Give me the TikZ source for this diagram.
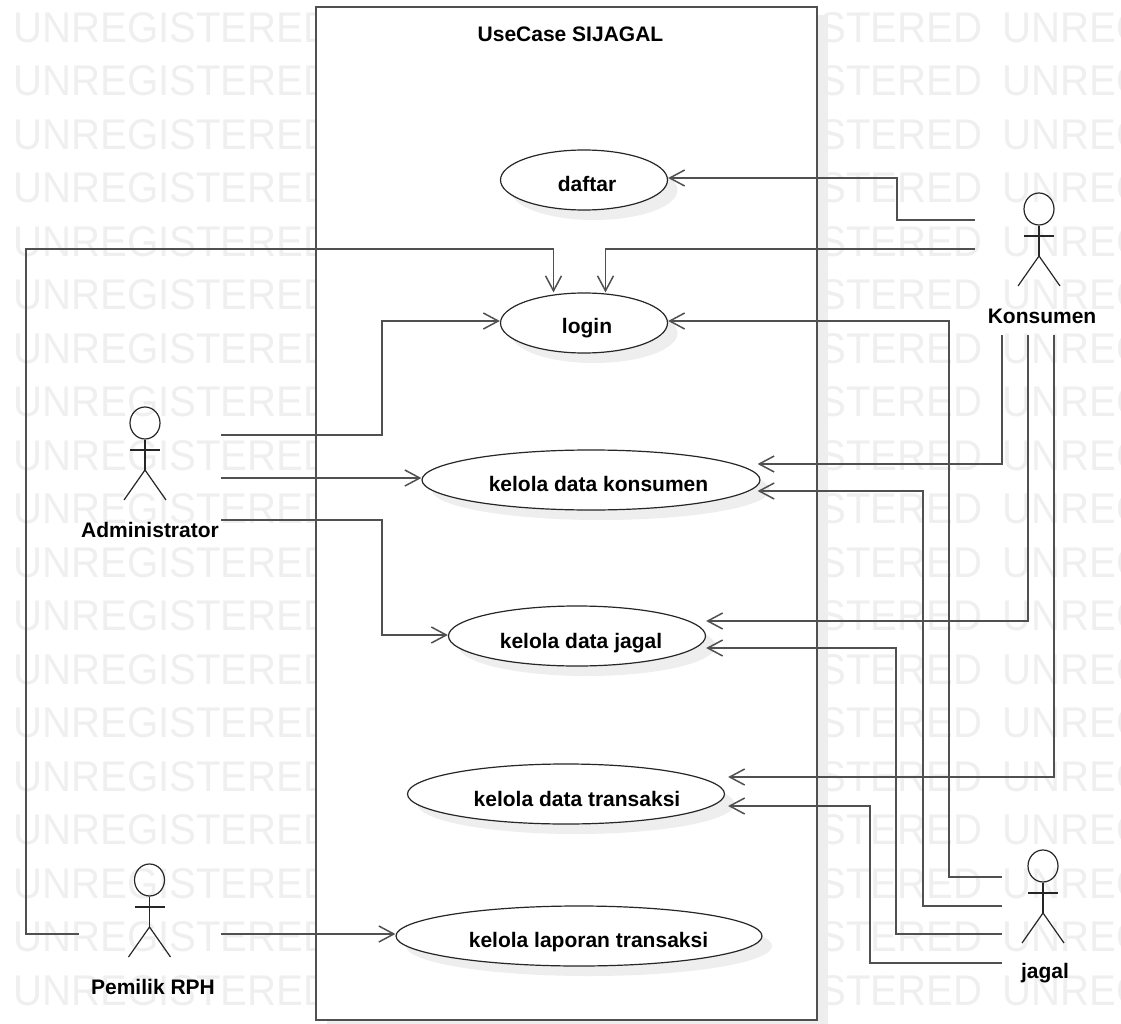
\documentclass[tikz,border=0pt]{standalone}
\usepackage{fontspec}
\setmainfont{Liberation Sans}
\usetikzlibrary{shapes.geometric}
\usetikzlibrary{arrows.meta}
\usetikzlibrary{shadows}
\definecolor{wmgray}{HTML}{EFEFEF}
\definecolor{shadowgray}{HTML}{EEEEEE}
\definecolor{linegray}{HTML}{505050}
\tikzstyle{watermark}=[inner sep=0pt, anchor=west, text=wmgray, xscale=0.935, font=\fontsize{43}{43}\selectfont]
\tikzstyle{system}=[draw=linegray, line width=2pt, fill=white, inner sep=0pt, minimum width=501pt, minimum height=1013pt, drop shadow={shadow xshift=10.5pt, shadow yshift=-8pt, opacity=1, fill=shadowgray}]
\tikzstyle{usecase}=[draw=black!85, line width=1.2pt, ellipse, fill=white, inner sep=0pt, minimum height=60pt, drop shadow={shadow xshift=10pt, shadow yshift=-10pt, opacity=1, fill=shadowgray}]
\tikzstyle{actorhead}=[draw=black!85, line width=1.2pt, ellipse, inner sep=0pt, minimum width=30pt, minimum height=32pt]
\tikzstyle{actorname}=[inner sep=0pt, font=\bfseries\fontsize{21}{21}\selectfont]
\tikzstyle{assoc}=[draw=linegray, line width=1.8pt, ->, >={Straight Barb[length=15pt, width=16pt, line width=1.5pt]}]
\tikzstyle{limb}=[draw=black!85, line width=1.2pt]

\begin{document}
\begin{tikzpicture}[x=1pt, y=-1pt]
        \useasboundingbox (0, 0) rectangle (1121, 1024);
        \begin{scope}
            \clip (0, 0) rectangle (1121, 1024);
            \foreach \row in {0,...,18} {
                \node[watermark] (wmA\row) at (13, 27.5+53.5*\row) {UNREGISTERED};
                \node[watermark] (wmB\row) at (663, 27.5+53.5*\row) {UNREGISTERED};
                \node[watermark] (wmC\row) at (1002, 27.5+53.5*\row) {UNREGISTERED};
            }
        \end{scope}

        \node[system] (sys) at (566.5, 513.5) {};
        \node[actorname] (title) at (570.5, 34) {UseCase SIJAGAL};

        \node[usecase, minimum width=167pt, label={[actorname, xshift=3pt, yshift=-4pt]center:daftar}] (daftar) at (584, 180) {};
        \node[usecase, minimum width=167pt, label={[actorname, xshift=3pt, yshift=-5.5pt]center:login}] (login) at (584, 323) {};
        \node[usecase, minimum width=338pt, label={[actorname, xshift=7.5pt, yshift=-4pt]center:kelola data konsumen}] (kKonsumen) at (591, 480) {};
        \node[usecase, minimum width=257pt, label={[actorname, xshift=4pt, yshift=-7.5pt]center:kelola data jagal}] (kJagal) at (577, 636) {};
        \node[usecase, minimum width=317pt, label={[actorname, xshift=11pt, yshift=-4.5pt]center:kelola data transaksi}] (kTransaksi) at (566, 794) {};
        \node[usecase, minimum width=366pt, label={[actorname, xshift=9.5pt, yshift=-6.5pt]center:kelola laporan transaksi}] (kLaporan) at (579, 936) {};

        % actors
        \foreach \who/\hx/\hy/\lx/\ly/\txt in {admin/145/423/150/530/Administrator, pemilik/149.5/880/153/987/Pemilik RPH, konsumen/1039/209/1042/316/Konsumen, jagal/1043/866/1045/973/jagal} {
            \node[actorhead] (\who Head) at (\hx, \hy) {};
            \node[actorname] (\who) at (\lx, \ly) {\txt};
            \coordinate (\who Hip) at (\hx, \hy+47);
            \draw[limb] (\who Head.south) -- (\who Hip);
            \draw[limb] (\hx-15, \hy+27) -- (\hx+15, \hy+27);
            \draw[limb] (\hx-21, \hy+77) -- (\who Hip) -- (\hx+21, \hy+77);
        }

        % free ends beside the actors
        \coordinate (adminA) at (221, 435);
        \coordinate (adminB) at (221, 478);
        \coordinate (adminC) at (221, 520);
        \coordinate (pemilikA) at (79, 934);
        \coordinate (pemilikB) at (221, 934);
        \coordinate (konsumenA) at (975, 220);
        \coordinate (konsumenB) at (975, 249);
        \coordinate (konsumenC) at (1002, 335);
        \coordinate (konsumenD) at (1028, 335);
        \coordinate (konsumenE) at (1054, 335);
        \coordinate (jagalA) at (1001.5, 877);
        \coordinate (jagalB) at (1001.5, 906);
        \coordinate (jagalC) at (1001.5, 934);
        \coordinate (jagalD) at (1001.5, 963);

        \draw[assoc] (adminA) -| (382, 321) |- ([yshift=2pt]login.west);
        \draw[assoc] (adminB) -- ([yshift=2pt]kKonsumen.west);
        \draw[assoc] (adminC) -| (382, 635) -- ([yshift=1pt]kJagal.west);
        \draw[assoc] (pemilikB) -- ([yshift=2pt]kLaporan.west);
        \draw[assoc] (pemilikA) -| (26, 249) -| ([xshift=-30.5pt]login.north);
        \draw[assoc] (konsumenA) -| (897, 178) -- ([yshift=2pt]daftar.east);
        \draw[assoc] (konsumenB) -| ([xshift=21.5pt]login.north);
        \draw[assoc] (konsumenC) |- ([yshift=16pt,xshift=-3pt]kKonsumen.east);
        \draw[assoc] (konsumenD) |- ([yshift=15pt]kJagal.east);
        \draw[assoc] (konsumenE) |- ([yshift=17pt,xshift=3pt]kTransaksi.east);
        \draw[assoc] (jagalA) -| (949, 321) -- ([yshift=2pt]login.east);
        \draw[assoc] (jagalB) -| (923, 491) -- ([yshift=-11pt,xshift=-3pt]kKonsumen.east);
        \draw[assoc] (jagalC) -| (896, 648) -- ([yshift=-12pt]kJagal.east);
        \draw[assoc] (jagalD) -| (870, 806) -- ([yshift=-12pt,xshift=3pt]kTransaksi.east);
    \end{tikzpicture}
\end{document}
